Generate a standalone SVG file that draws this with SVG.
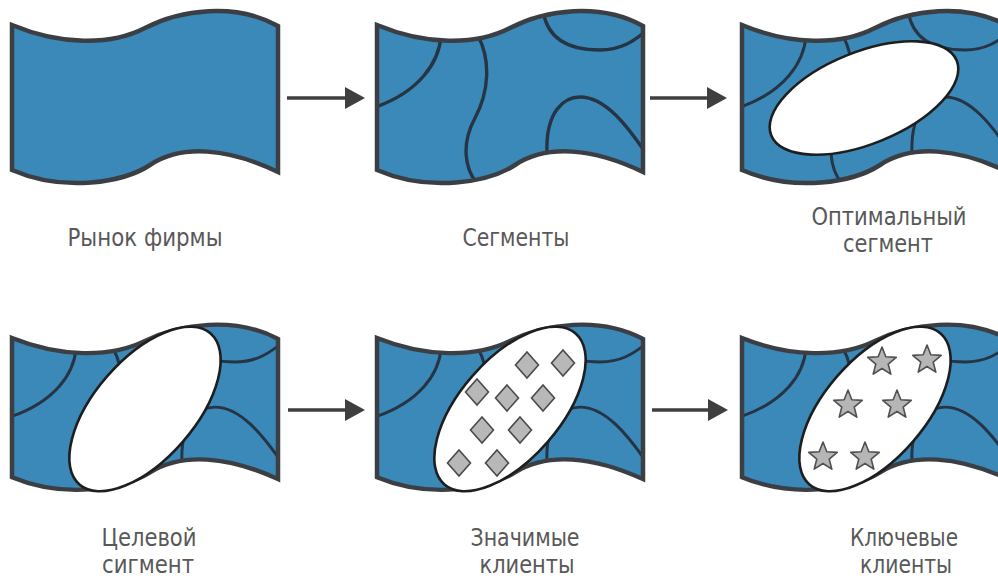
<svg xmlns="http://www.w3.org/2000/svg" xmlns:xlink="http://www.w3.org/1999/xlink" width="998" height="578" viewBox="0 0 998 578">
<style>
.fill{fill:#3a89b9;stroke:none}
.outline{fill:none;stroke:#3b3f44;stroke-width:4.5;stroke-linejoin:miter}
.seg{fill:none;stroke:#263444;stroke-width:3.4;stroke-linecap:round}
.oval{fill:#ffffff;stroke:#1e1e1e;stroke-width:2.6}
.dia{fill:#b8b8b8;stroke:#4a4a4a;stroke-width:1.6;stroke-linejoin:miter}
.star{fill:#b6b6b6;stroke:#505050;stroke-width:1.6;stroke-linejoin:round}
.arrow{stroke:#3f3f3f;stroke-width:3.6;fill:none}
.lbl{font-family:"DejaVu Sans Condensed","DejaVu Sans","Liberation Sans",sans-serif;font-stretch:condensed;font-size:24px;fill:#585858;text-anchor:middle}
</style>
<defs>
<path id="flag" d="M12,25 C60,45 110,46 145,28 C180,10 235,2 278,26 L278,172 C228,148 182,144 150,165 C124,182 65,193 12,170 Z"/>
<clipPath id="clip" clipPathUnits="userSpaceOnUse"><use xlink:href="#flag" href="#flag"/></clipPath>
<g id="segs">
<path d="M76,36 C74,62 55,92 8,108"/>
<path d="M113,36 C126,60 124,92 110,118 C97,142 98,168 114,186"/>
<path d="M178,10 C182,40 205,50 235,50 C255,50 268,42 282,30"/>
<path d="M182,155 C180,110 200,97 215,97 C240,97 262,125 282,155"/>
</g>
<polygon id="diamond" points="0,-13 11.5,0 0,13 -11.5,0"/>
<polygon id="star" points="0,-15 3.82,-5.26 14.27,-4.64 6.18,2.01 8.82,12.14 0,6.5 -8.82,12.14 -6.18,2.01 -14.27,-4.64 -3.82,-5.26"/>
<marker id="ah" markerUnits="userSpaceOnUse" markerWidth="20" markerHeight="22" viewBox="0 0 20 22" refX="2" refY="11" orient="auto">
<path d="M0,0 L20,11 L0,22 Z" fill="#3f3f3f"/>
</marker>
</defs>

<g id="n1">
<use xlink:href="#flag" href="#flag" class="fill"/>
<use xlink:href="#flag" href="#flag" class="outline"/>
<text class="lbl" x="145" y="246" textLength="155" lengthAdjust="spacingAndGlyphs">Рынок фирмы</text>
</g>

<g id="n2">
<g transform="translate(365,0)">
<use xlink:href="#flag" href="#flag" class="fill"/>
<use xlink:href="#segs" href="#segs" class="seg" clip-path="url(#clip)"/>
<use xlink:href="#flag" href="#flag" class="outline"/>
</g>
<text class="lbl" x="516" y="246" textLength="107" lengthAdjust="spacingAndGlyphs">Сегменты</text>
</g>

<g id="n3">
<g transform="translate(730,0)">
<use xlink:href="#flag" href="#flag" class="fill"/>
<use xlink:href="#segs" href="#segs" class="seg" style="stroke-width:3" clip-path="url(#clip)"/>
<use xlink:href="#flag" href="#flag" class="outline"/>
</g>
<ellipse class="oval" cx="864" cy="98" rx="100" ry="46" transform="rotate(-22 864 98)"/>
<text class="lbl" x="889" y="225" textLength="155" lengthAdjust="spacingAndGlyphs">Оптимальный</text>
<text class="lbl" x="888" y="252" textLength="90" lengthAdjust="spacingAndGlyphs">сегмент</text>
</g>

<g id="n4">
<g transform="translate(0,314) scale(1,0.96)">
<use xlink:href="#flag" href="#flag" class="fill"/>
<use xlink:href="#segs" href="#segs" class="seg" style="stroke-width:3" clip-path="url(#clip)"/>
<use xlink:href="#flag" href="#flag" class="outline"/>
</g>
<ellipse class="oval" cx="145" cy="409" rx="100" ry="50" transform="rotate(-49 145 409)"/>
<text class="lbl" x="149" y="546" textLength="95" lengthAdjust="spacingAndGlyphs">Целевой</text>
<text class="lbl" x="148" y="573" textLength="92" lengthAdjust="spacingAndGlyphs">сигмент</text>
</g>

<g id="n5">
<g transform="translate(365,314) scale(1,0.96)">
<use xlink:href="#flag" href="#flag" class="fill"/>
<use xlink:href="#segs" href="#segs" class="seg" style="stroke-width:3" clip-path="url(#clip)"/>
<use xlink:href="#flag" href="#flag" class="outline"/>
</g>
<ellipse class="oval" cx="510" cy="409" rx="100" ry="50" transform="rotate(-49 510 409)"/>
<use xlink:href="#diamond" href="#diamond" class="dia" x="527" y="365"/>
<use xlink:href="#diamond" href="#diamond" class="dia" x="563" y="363"/>
<use xlink:href="#diamond" href="#diamond" class="dia" x="477" y="392"/>
<use xlink:href="#diamond" href="#diamond" class="dia" x="507" y="398"/>
<use xlink:href="#diamond" href="#diamond" class="dia" x="543" y="398"/>
<use xlink:href="#diamond" href="#diamond" class="dia" x="482" y="430"/>
<use xlink:href="#diamond" href="#diamond" class="dia" x="520" y="430"/>
<use xlink:href="#diamond" href="#diamond" class="dia" x="459" y="463"/>
<use xlink:href="#diamond" href="#diamond" class="dia" x="497" y="463"/>
<text class="lbl" x="525" y="546" textLength="109" lengthAdjust="spacingAndGlyphs">Значимые</text>
<text class="lbl" x="527" y="573" textLength="95" lengthAdjust="spacingAndGlyphs">клиенты</text>
</g>

<g id="n6">
<g transform="translate(730,314) scale(1,0.96)">
<use xlink:href="#flag" href="#flag" class="fill"/>
<use xlink:href="#segs" href="#segs" class="seg" style="stroke-width:3" clip-path="url(#clip)"/>
<use xlink:href="#flag" href="#flag" class="outline"/>
</g>
<ellipse class="oval" cx="875" cy="409" rx="100" ry="50" transform="rotate(-49 875 409)"/>
<use xlink:href="#star" href="#star" class="star" x="882" y="362"/>
<use xlink:href="#star" href="#star" class="star" x="927" y="360"/>
<use xlink:href="#star" href="#star" class="star" x="848" y="405"/>
<use xlink:href="#star" href="#star" class="star" x="897" y="405"/>
<use xlink:href="#star" href="#star" class="star" x="823" y="457"/>
<use xlink:href="#star" href="#star" class="star" x="865" y="457"/>
<text class="lbl" x="904" y="546" textLength="108" lengthAdjust="spacingAndGlyphs">Ключевые</text>
<text class="lbl" x="906" y="573" textLength="92" lengthAdjust="spacingAndGlyphs">клиенты</text>
</g>

<g id="connectors">
<line class="arrow" x1="287" y1="98" x2="347" y2="98" marker-end="url(#ah)"/>
<line class="arrow" x1="650" y1="98" x2="709" y2="98" marker-end="url(#ah)"/>
<line class="arrow" x1="288" y1="410" x2="347" y2="410" marker-end="url(#ah)"/>
<line class="arrow" x1="652" y1="410" x2="710" y2="410" marker-end="url(#ah)"/>
</g>
</svg>
